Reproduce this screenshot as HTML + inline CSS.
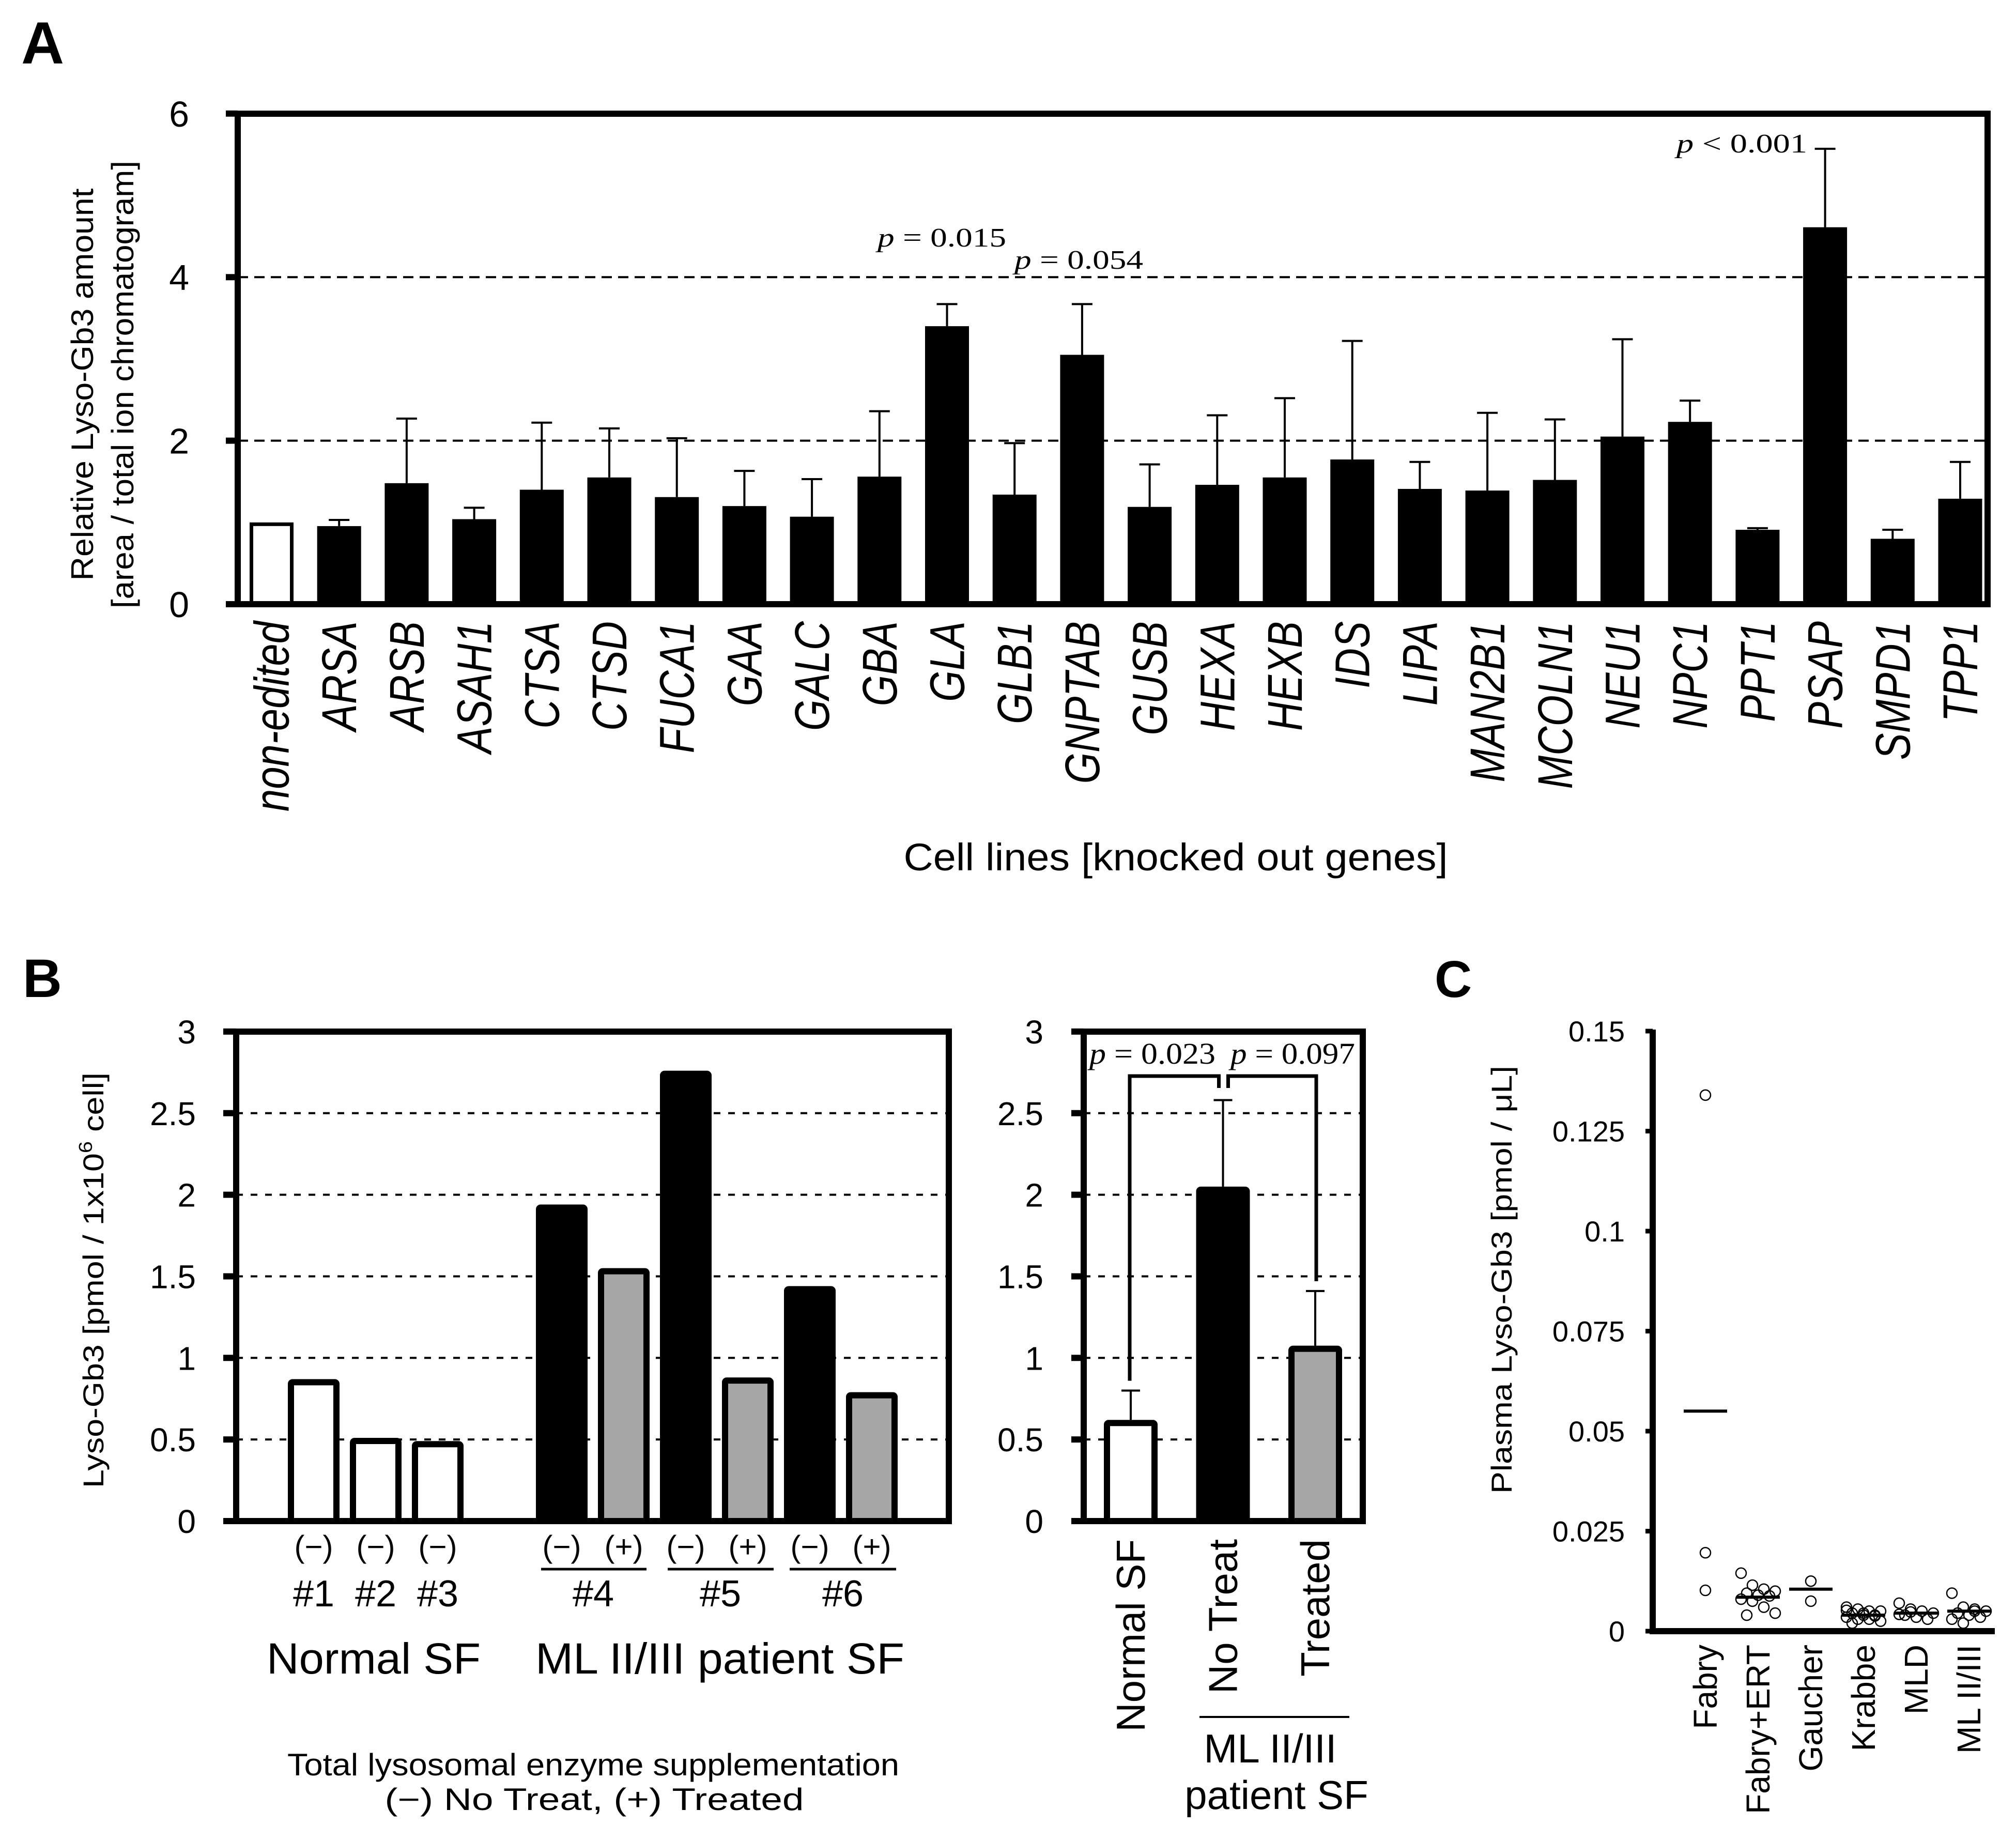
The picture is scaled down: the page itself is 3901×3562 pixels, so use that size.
<!DOCTYPE html>
<html><head><meta charset="utf-8">
<style>
html,body{margin:0;padding:0;background:#fff;}
svg{display:block;}
text{font-family:"Liberation Sans",Arial,sans-serif;fill:#000;}
.serif{font-family:"Liberation Serif","Times New Roman",serif;}
</style></head>
<body>
<svg id="fig" xmlns="http://www.w3.org/2000/svg" width="3901" height="3562" viewBox="0 0 3901 3562">
<rect x="0" y="0" width="3901" height="3562" fill="#fff"/>
<g id="panelA"></g>
<g id="panelB"></g>
<g id="panelBR"></g>
<g id="panelC"></g>
</svg>
<script>
// ---------- Panel A data ----------
const genesA = ["non-edited","ARSA","ARSB","ASAH1","CTSA","CTSD","FUCA1","GAA","GALC","GBA","GLA","GLB1","GNPTAB","GUSB","HEXA","HEXB","IDS","LIPA","MAN2B1","MCOLN1","NEU1","NPC1","PPT1","PSAP","SMPD1","TPP1"];
const meansA = [1.0,0.955,1.48,1.04,1.40,1.55,1.31,1.20,1.07,1.56,3.40,1.34,3.05,1.19,1.46,1.55,1.77,1.41,1.39,1.52,2.05,2.23,0.91,4.61,0.80,1.29];
const errTopA = [null,1.03,2.27,1.18,2.22,2.15,2.03,1.63,1.53,2.36,3.67,1.97,3.67,1.71,2.31,2.52,3.22,1.74,2.34,2.26,3.24,2.49,0.93,5.57,0.91,1.74];
const ticksA = [0,2,4,6];
// ---------- Panel B data ----------
const samplesB = ["#1","#2","#3","#4","#4","#5","#5","#6","#6"];
const treatB = ["(−)","(−)","(−)","(−)","(+)","(−)","(+)","(−)","(+)"];
const valuesB = [0.87,0.51,0.49,1.94,1.55,2.76,0.88,1.44,0.79];
const ticksB = [0,0.5,1,1.5,2,2.5,3];
const tickLabelsB = ["0","0.5","1","1.5","2","2.5","3"];
// ---------- Panel B summary data ----------
const groupsBR = ["Normal SF","No Treat","Treated"];
const meansBR = [0.62,2.05,1.075];
const errTopBR = [0.80,2.58,1.41];
// ---------- Panel C data ----------
const groupsC = ["Fabry","Fabry+ERT","Gaucher","Krabbe","MLD","ML II/III"];
const fabryC = [0.134,0.0196,0.0102];
const fabryErtC = [0.0145,0.0115,0.0105,0.010,0.0095,0.009,0.0088,0.008,0.0075,0.006,0.0045,0.004];
const gaucherC = [0.0125,0.0075];
const krabbeC = [0.006,0.0055,0.005,0.005,0.0045,0.004,0.004,0.0035,0.003,0.003,0.0025,0.002,0.0045,0.0038,0.0052];
const mldC = [0.007,0.0055,0.005,0.0045,0.004,0.0035,0.003,0.0042,0.0048];
const mlC = [0.0095,0.006,0.0055,0.005,0.0045,0.004,0.0035,0.003,0.002,0.005];
const meanC = [0.055,0.0085,0.0105,0.004,0.0045,0.005];
const ticksC = [0,0.025,0.05,0.075,0.1,0.125,0.15];
const tickLabelsC = ["0","0.025","0.05","0.075","0.1","0.125","0.15"];

const NS="http://www.w3.org/2000/svg";
function mk(parent, tag, attrs, txt){
  const e=document.createElementNS(NS,tag);
  for(const k in attrs) e.setAttribute(k,attrs[k]);
  if(txt!==undefined) e.textContent=txt;
  parent.appendChild(e); return e;
}

// ================= PANEL A =================
(function(){
  const g=document.getElementById('panelA');
  const L=460,R=3846,T=220,B=1169;
  const yA=v=>B-v*158.2;
  const xA=i=>525.5+130.7*i;
  let t=mk(g,'text',{x:41,y:123,'font-size':115,'font-weight':'bold'},'A');
   
  // gridlines
  [2,4].forEach(v=>{
    const l=mk(g,'line',{x1:L,x2:R,y1:yA(v),y2:yA(v),stroke:'#000','stroke-width':4,'stroke-dasharray':'20 12'});
     
  });
  // bars
  genesA.forEach((gn,i)=>{
    const cx=xA(i), v=meansA[i];
    if(errTopA[i]!==null){
      const e=mk(g,'path',{d:`M${cx},${yA(v)} V${yA(errTopA[i])} M${cx-20},${yA(errTopA[i])} H${cx+20}`,stroke:'#000','stroke-width':4,fill:'none'});
       
    }
    const white=(i===0);
    const r=mk(g,'rect',{x:cx-(white?39:42.5),y:yA(v)+(white?3.5:0),width:white?78:85,height:B-yA(v)-(white?3.5:0),fill:white?'#fff':'#000',stroke:'#000','stroke-width':white?7:0});
     
    const lb=mk(g,'text',{transform:`translate(${cx+33},1202) rotate(-90) scale(0.82,1)`,'text-anchor':'end','font-size':95,'font-style':'italic'},gn);
     
  });
  // frame
  const f=mk(g,'path',{d:`M${L},${T} H${R} V${B} H${L} Z`,fill:'none',stroke:'#000','stroke-width':12});
   
  ticksA.forEach(v=>{
    const tk=mk(g,'line',{x1:437,x2:L,y1:yA(v),y2:yA(v),stroke:'#000','stroke-width':12});
     
    const tl=mk(g,'text',{x:366,y:yA(v)+25,'text-anchor':'end','font-size':70},String(v));
     
  });
  t=mk(g,'text',{transform:'translate(180,744) rotate(-90)','text-anchor':'middle','font-size':60,textLength:759,lengthAdjust:'spacingAndGlyphs'},'Relative Lyso-Gb3 amount');
   
  t=mk(g,'text',{transform:'translate(258,744) rotate(-90)','text-anchor':'middle','font-size':60,textLength:866,lengthAdjust:'spacingAndGlyphs'},'[area / total ion chromatogram]');
   
  t=mk(g,'text',{x:2275,y:1684,'text-anchor':'middle','font-size':74,textLength:1053,lengthAdjust:'spacingAndGlyphs'},'Cell lines [knocked out genes]');
   
  const pv=[["p = 0.015",1698,477,249],["p = 0.054",1963,520,249],["p < 0.001",3244,295,253]];
  pv.forEach(p=>{
    const tt=mk(g,'text',{x:p[1],y:p[2],'font-size':52,class:'serif',textLength:p[3],lengthAdjust:'spacingAndGlyphs'});
     
    const s1=mk(tt,'tspan',{'font-style':'italic'},'p'); mk(tt,'tspan',{},p[0].slice(1));
  });
})();

// ================= PANEL B (left) =================
(function(){
  const g=document.getElementById('panelB');
  const L=457,R=1836,T=1996,B=2943;
  const yB=v=>B-v*315.7;
  const xB=i=> i<3 ? 607+120*i : 1087+120*(i-3);
  let t=mk(g,'text',{x:44,y:1929,'font-size':105,'font-weight':'bold'},'B');
   
  ticksB.forEach((v,i)=>{
    if(v>0&&v<3){
      const l=mk(g,'line',{x1:L,x2:R,y1:yB(v),y2:yB(v),stroke:'#000','stroke-width':4,'stroke-dasharray':'13 15'});
       
    }
  });
  valuesB.forEach((v,i)=>{
    const cx=xB(i);
    const fill = i<3 ? '#fff' : (treatB[i]==='(+)' ? '#a6a6a6' : '#000');
    const r=mk(g,'rect',{x:cx-44,y:yB(v)+6,width:88,height:B-yB(v)-6,fill:fill,stroke:'#000','stroke-width':12,rx:3});
     
    const tl=mk(g,'text',{x:cx,y:3013,'text-anchor':'middle','font-size':60},treatB[i]);
     
  });
  // sample labels
  [[607,'#1'],[727,'#2'],[847,'#3'],[1148,'#4'],[1394,'#5'],[1631,'#6']].forEach(s=>{
    const tl=mk(g,'text',{x:s[0],y:3108,'text-anchor':'middle','font-size':72},s[1]);
     
  });
  [[1047,1251],[1292,1497],[1528,1734]].forEach(u=>{
    const l=mk(g,'line',{x1:u[0],x2:u[1],y1:3036,y2:3036,stroke:'#000','stroke-width':5});
     
  });
  const f=mk(g,'path',{d:`M${L},${T} H${R} V${B} H${L} Z`,fill:'none',stroke:'#000','stroke-width':12});
   
  ticksB.forEach((v,i)=>{
    const tk=mk(g,'line',{x1:432,x2:L,y1:yB(v),y2:yB(v),stroke:'#000','stroke-width':12});
     
    const tl=mk(g,'text',{x:379,y:yB(v)+23,'text-anchor':'end','font-size':64},tickLabelsB[i]);
     
  });
  t=mk(g,'text',{transform:'translate(200,2477) rotate(-90)','text-anchor':'middle','font-size':56,textLength:804,lengthAdjust:'spacingAndGlyphs'});
   
  mk(t,'tspan',{},'Lyso-Gb3 [pmol / 1x10'); mk(t,'tspan',{'font-size':36,dy:-22},'6'); mk(t,'tspan',{dy:22},' cell]');
  t=mk(g,'text',{x:723,y:3238,'text-anchor':'middle','font-size':84,textLength:414,lengthAdjust:'spacingAndGlyphs'},'Normal SF');
   
  t=mk(g,'text',{x:1393,y:3238,'text-anchor':'middle','font-size':84,textLength:714,lengthAdjust:'spacingAndGlyphs'},'ML II/III patient SF');
   
  t=mk(g,'text',{x:1148,y:3435,'text-anchor':'middle','font-size':60,textLength:1184,lengthAdjust:'spacingAndGlyphs'},'Total lysosomal enzyme supplementation');
   
  t=mk(g,'text',{x:1150,y:3502,'text-anchor':'middle','font-size':60,textLength:811,lengthAdjust:'spacingAndGlyphs'},'(−) No Treat, (+) Treated');
   
})();

// ================= PANEL B (right summary) =================
(function(){
  const g=document.getElementById('panelBR');
  const L=2097,R=2637,T=1996,B=2943;
  const yB=v=>B-v*315.7;
  const xR=i=>2188+178.5*i;
  ticksB.forEach(v=>{
    if(v>0&&v<3){
      const l=mk(g,'line',{x1:L,x2:R,y1:yB(v),y2:yB(v),stroke:'#000','stroke-width':4,'stroke-dasharray':'13 15'});
       
    }
  });
  const fills=['#fff','#000','#a6a6a6'];
  meansBR.forEach((v,i)=>{
    const cx=xR(i);
    const e=mk(g,'path',{d:`M${cx},${yB(v)} V${yB(errTopBR[i])} M${cx-18},${yB(errTopBR[i])} H${cx+18}`,stroke:'#000','stroke-width':4,fill:'none'});
     
    const r=mk(g,'rect',{x:cx-46,y:yB(v)+6,width:92,height:B-yB(v)-6,fill:fills[i],stroke:'#000','stroke-width':12,rx:3});
     
    const tl=mk(g,'text',{transform:`translate(${cx+27},2978) rotate(-90)`,'text-anchor':'end','font-size':78},groupsBR[i]);
     
  });
  // significance brackets
  const x0=xR(0)-2, x1=xR(1), x2=xR(2)+2;
  let b=mk(g,'path',{d:`M${x0},${yB(0.86)} V2082 H${x1-8} V2105`,fill:'none',stroke:'#000','stroke-width':7});
   
  b=mk(g,'path',{d:`M${x1+10},2105 V2082 H${x2} V${yB(1.47)}`,fill:'none',stroke:'#000','stroke-width':7});
   
  [["= 0.023",2108,244],["= 0.097",2381,241]].forEach(p=>{
    const tt=mk(g,'text',{x:p[1],y:2058,'font-size':58,class:'serif',textLength:p[2],lengthAdjust:'spacingAndGlyphs'});
     
    mk(tt,'tspan',{'font-style':'italic'},'p'); mk(tt,'tspan',{},' '+p[0]);
  });
  const f=mk(g,'path',{d:`M${L},${T} H${R} V${B} H${L} Z`,fill:'none',stroke:'#000','stroke-width':12});
   
  ticksB.forEach((v,i)=>{
    const tk=mk(g,'line',{x1:2073,x2:L,y1:yB(v),y2:yB(v),stroke:'#000','stroke-width':12});
     
    const tl=mk(g,'text',{x:2019,y:yB(v)+23,'text-anchor':'end','font-size':64},tickLabelsB[i]);
     
  });
  const u=mk(g,'line',{x1:2321,x2:2611,y1:3322,y2:3322,stroke:'#000','stroke-width':4});
   
  let t=mk(g,'text',{x:2458,y:3410,'text-anchor':'middle','font-size':78},'ML II/III');
   
  t=mk(g,'text',{x:2470,y:3500,'text-anchor':'middle','font-size':78},'patient SF');
   
})();

// ================= PANEL C =================
(function(){
  const g=document.getElementById('panelC');
  const L=3198,R=3860,B=3156;
  const yC=v=>B-v*7740;
  const xC=i=>3300+102*i;
  let t=mk(g,'text',{x:2776,y:1929,'font-size':100,'font-weight':'bold'},'C');
   
  const series=[fabryC,fabryErtC,gaucherC,krabbeC,mldC,mlC];
  series.forEach((arr,i)=>{
    arr.forEach((v,k)=>{
      const jit = arr.length<=3 ? 0 : (((k*37)%7)-3)*11;
      const c=mk(g,'circle',{cx:xC(i)+jit,cy:yC(v),r:10,fill:'none',stroke:'#000','stroke-width':2.5});
       
    });
    const m=mk(g,'line',{x1:xC(i)-42,x2:xC(i)+42,y1:yC(meanC[i]),y2:yC(meanC[i]),stroke:'#000','stroke-width':6});
     
    const tl=mk(g,'text',{transform:`translate(${xC(i)+22},3182) rotate(-90)`,'text-anchor':'end','font-size':64},groupsC[i]);
     
  });
  const ax=mk(g,'path',{d:`M${L},1992 V${B} H${R}`,fill:'none',stroke:'#000','stroke-width':12});
   
  ticksC.forEach((v,i)=>{
    const tk=mk(g,'line',{x1:3184,x2:L,y1:yC(v),y2:yC(v),stroke:'#000','stroke-width':9});
     
    const tl=mk(g,'text',{x:3144,y:yC(v)+20,'text-anchor':'end','font-size':56},tickLabelsC[i]);
     
  });
  t=mk(g,'text',{transform:'translate(2925,2476) rotate(-90)','text-anchor':'middle','font-size':56,textLength:828,lengthAdjust:'spacingAndGlyphs'},'Plasma Lyso-Gb3 [pmol / μL]');
   
})();
</script>
</body></html>
